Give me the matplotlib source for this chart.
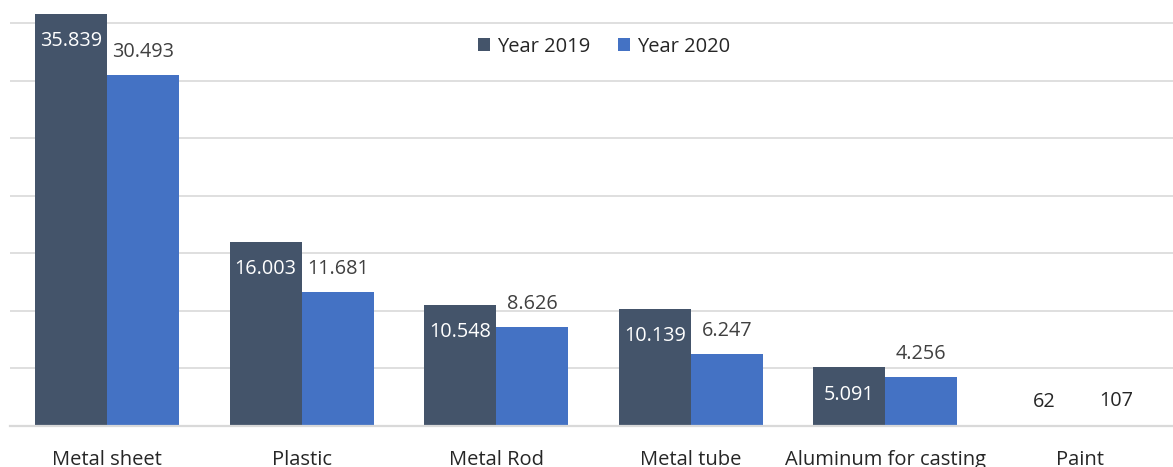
import matplotlib
matplotlib.use("Agg")
import matplotlib.pyplot as plt
import numpy as np

categories = ["Metal sheet", "Plastic", "Metal Rod", "Metal tube", "Aluminum for casting", "Paint"]
year_2019 = [35839, 16003, 10548, 10139, 5091, 62]
year_2020 = [30493, 11681, 8626, 6247, 4256, 107]
series_names = ["Year 2019", "Year 2020"]

plt.rcParams['font.family'] = ['Open Sans', 'DejaVu Sans']

W, H = 1173, 467
fig = plt.figure(figsize=(W / 100, H / 100), dpi=100)
ax = fig.add_axes([10 / W, 1 - 426 / H, 1167 / W, 426 / H])

c19 = "#44546A"
c20 = "#4472C4"
x = np.arange(len(categories))
bw = 72 / 194.5

ax.bar(x - bw / 2, year_2019, bw, color=c19, label=series_names[0], zorder=3)
ax.bar(x + bw / 2, year_2020, bw, color=c20, label=series_names[1], zorder=3)

def fmt(v):
    return f"{v:,}".replace(",", ".")

fs = 14.3
for xi, v in zip(x, year_2019):
    if v > 3000:
        ax.annotate(fmt(v), (xi - bw / 2, v), xytext=(0, -19.5), textcoords="offset points",
                    ha="center", va="center", color="white", fontsize=fs, zorder=4)
    else:
        ax.annotate(fmt(v), (xi - bw / 2, v), xytext=(0, 17), textcoords="offset points",
                    ha="center", va="center", color="#262626", fontsize=fs, zorder=4)
for xi, v in zip(x, year_2020):
    ax.annotate(fmt(v), (xi + bw / 2, v), xytext=(0, 16.5 if v > 1000 else 17), textcoords="offset points",
                ha="center", va="center", color="#404040" if v > 1000 else "#262626",
                fontsize=fs, zorder=4)

ax.set_xlim(-0.5, len(categories) - 0.5)
ax.set_ylim(0, 37043)
ax.set_yticks(np.arange(0, 37000, 5000))
ax.yaxis.grid(True, color="#D9D9D9", linewidth=1.2, zorder=0)
ax.tick_params(axis="y", left=False, labelleft=False)
ax.set_xticks(x)
ax.set_xticklabels(categories, fontsize=14.5, color="#262626")
ax.tick_params(axis="x", length=0, pad=17)
for s in ["top", "right", "left"]:
    ax.spines[s].set_visible(False)
ax.spines["bottom"].set_color("#D9D9D9")
ax.spines["bottom"].set_linewidth(1.6)
ax.spines["bottom"].set_zorder(6)

leg = ax.legend(loc="center", bbox_to_anchor=(0.509, 0.89), ncol=2, frameon=False,
                fontsize=14.5, handlelength=0.6, handleheight=0.6, handletextpad=0.35,
                columnspacing=1.4)
for t in leg.get_texts():
    t.set_color("#262626")

fig.savefig("out.png", dpi=100)
